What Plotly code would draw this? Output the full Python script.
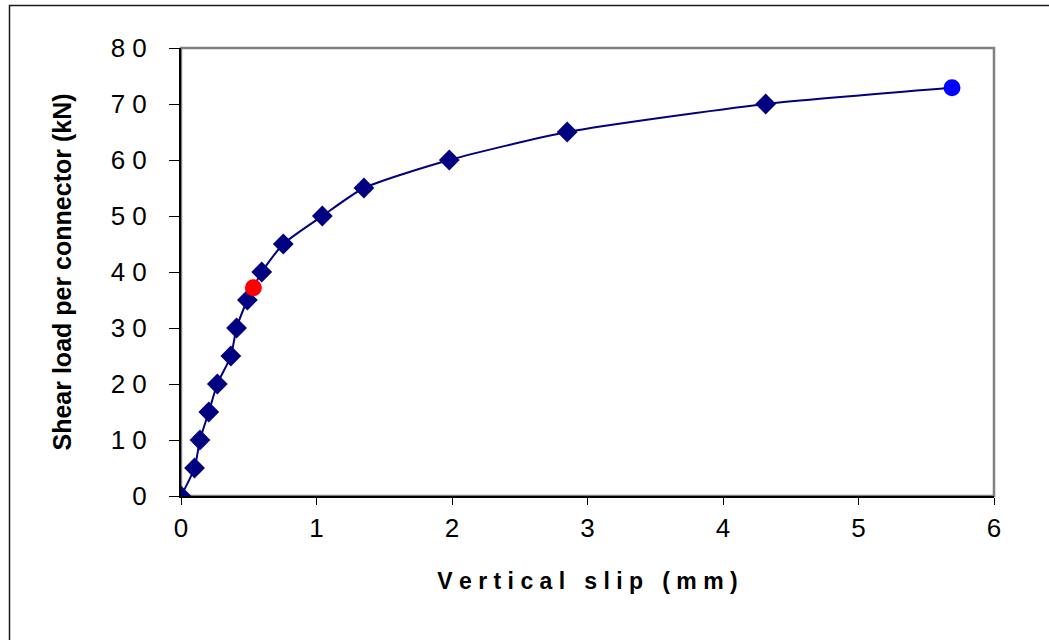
import plotly.graph_objects as go

# Data
slip_mm = [0.0, 0.10, 0.14, 0.205, 0.268, 0.368, 0.41, 0.49, 0.534, 0.596, 0.755, 1.043, 1.35, 1.98, 2.85, 4.315, 5.69]
load_kn = [0, 5, 10, 15, 20, 25, 30, 35, 37.2, 40, 45, 50, 55, 60, 65, 70, 72.9]

diamond_slip = [0.0, 0.10, 0.14, 0.205, 0.268, 0.368, 0.41, 0.49, 0.596, 0.755, 1.043, 1.35, 1.98, 2.85, 4.315]
diamond_load = [0, 5, 10, 15, 20, 25, 30, 35, 40, 45, 50, 55, 60, 65, 70]

red_slip = [0.534]
red_load = [37.2]
blue_slip = [5.69]
blue_load = [72.9]

y_ticks = [0, 10, 20, 30, 40, 50, 60, 70, 80]
y_tick_text = ["0", "1 0", "2 0", "3 0", "4 0", "5 0", "6 0", "7 0", "8 0"]
x_ticks = [0, 1, 2, 3, 4, 5, 6]

W, H = 1049, 640
ML, MR, MT, MB = 181, 55, 48, 144
PW, PH = W - ML - MR, H - MT - MB

fig = go.Figure()
fig.add_trace(go.Scatter(x=slip_mm, y=load_kn, mode="lines",
                         line=dict(color="#000080", width=2, shape="spline", smoothing=0.6),
                         hoverinfo="skip", showlegend=False))
fig.add_trace(go.Scatter(x=diamond_slip, y=diamond_load, mode="markers",
                         marker=dict(symbol="diamond", size=16, color="#000080"),
                         showlegend=False))
fig.add_trace(go.Scatter(x=red_slip, y=red_load, mode="markers",
                         marker=dict(symbol="circle", size=17, color="#FF0000"),
                         showlegend=False))
fig.add_trace(go.Scatter(x=blue_slip, y=blue_load, mode="markers",
                         marker=dict(symbol="circle", size=17, color="#0000FF"),
                         showlegend=False))

def px_to_paper_x(px):
    return (px - ML) / PW

def px_to_paper_y(py):
    return (H - MB - py) / PH

shapes = [
    dict(type="rect", xref="paper", yref="paper", x0=0, x1=1, y0=0, y1=1,
         line=dict(color="#808080", width=2.5), layer="below"),
    dict(type="rect", xref="paper", yref="paper",
         x0=px_to_paper_x(9.5), x1=px_to_paper_x(1070),
         y0=px_to_paper_y(680), y1=px_to_paper_y(5.5),
         line=dict(color="#1a1a1a", width=1.5), layer="below"),
]

FONT = "Liberation Sans, Arial, sans-serif"

fig.update_layout(
    width=W, height=H,
    margin=dict(l=ML, r=MR, t=MT, b=MB),
    paper_bgcolor="white", plot_bgcolor="white",
    font=dict(family=FONT, color="black"),
    shapes=shapes,
    xaxis=dict(range=[0, 6], tickvals=x_ticks, ticks="outside", ticklen=7, tickwidth=1,
               tickcolor="black", showline=True, linecolor="black", linewidth=2,
               showgrid=False, zeroline=False, tickfont=dict(size=26),
               ticklabelstandoff=1,
               title=dict(text="V e r t i c a l   s l i p   ( m m )",
                          font=dict(size=23, family=FONT, weight="bold"),
                          standoff=31)),
    yaxis=dict(range=[0, 80], tickvals=y_ticks, ticktext=y_tick_text, ticks="outside",
               ticklen=10, tickwidth=1, tickcolor="black", showline=True, linecolor="black",
               linewidth=2, showgrid=False, zeroline=False, tickfont=dict(size=26),
               ticklabelstandoff=17,
               title=dict(text="Shear load per connector (kN)",
                          font=dict(size=25, family=FONT, weight="bold"),
                          standoff=32)),
)

fig.write_html("out.html")
